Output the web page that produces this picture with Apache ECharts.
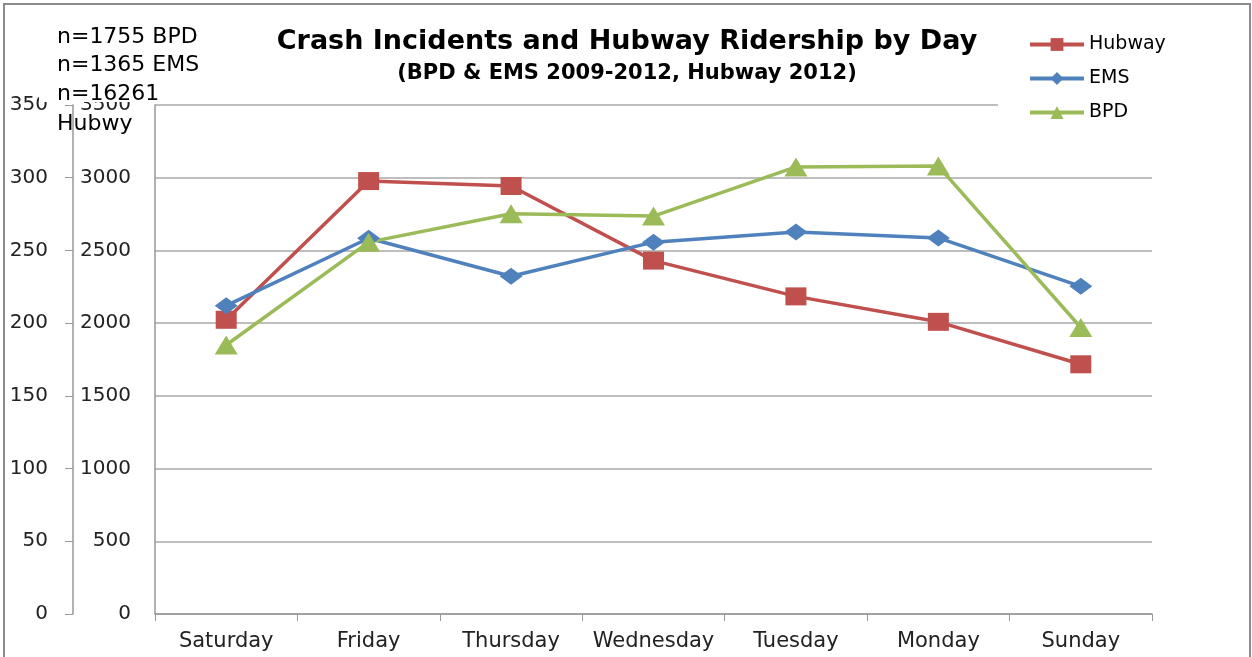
<!DOCTYPE html>
<html>
<head>
<meta charset="utf-8">
<script src="https://cdn.jsdelivr.net/npm/echarts@6/dist/echarts.min.js"></script>
<style>
html,body{margin:0;padding:0;background:#fff;}
#chart{width:1252px;height:657px;}
</style>
</head>
<body>
<div id="chart"></div>
<script>
var days = ['Saturday', 'Friday', 'Thursday', 'Wednesday', 'Tuesday', 'Monday', 'Sunday'];
var hubway = [2023, 2977, 2943, 2430, 2184, 2009, 1717];
var ems = [212, 258.4, 232.2, 255.7, 262.6, 258.6, 225.3];
var bpd = [185, 255.7, 275.2, 273.6, 307.4, 308, 197];
var noteLines = ['n=1755 BPD', 'n=1365 EMS', 'n=16261', 'Hubwy'];
var titleText = 'Crash Incidents and Hubway Ridership by Day';
var subtitleText = '(BPD & EMS 2009-2012, Hubway 2012)';

var FONT = 'DejaVu Sans';
var chart = echarts.init(document.getElementById('chart'), null, {renderer: 'canvas'});

var graphics = [
  {type: 'rect', z: 100, shape: {x: 4, y: 4, width: 1246, height: 660}, style: {fill: 'none', stroke: '#8c8c8c', lineWidth: 2}},
  {type: 'rect', z: 90, shape: {x: 39, y: 15, width: 122, height: 87}, style: {fill: '#fff'}},
  {type: 'text', z: 101, x: 627, y: 42, style: {text: titleText, font: 'bold 27px "DejaVu Sans"', fill: '#000', align: 'center', verticalAlign: 'middle'}},
  {type: 'text', z: 101, x: 627, y: 74, style: {text: subtitleText, font: 'bold 21px "DejaVu Sans"', fill: '#000', align: 'center', verticalAlign: 'middle'}}
];
var noteY = [37, 65, 94, 124];
noteLines.forEach(function (t, i) {
  graphics.push({type: 'text', z: 101, x: 57, y: noteY[i], style: {text: t, font: '22px "DejaVu Sans"', fill: '#000', align: 'left', verticalAlign: 'middle'}});
});

var option = {
  backgroundColor: '#fff',
  animation: false,
  textStyle: {fontFamily: FONT},
  grid: {left: 155, right: 100, top: 105, bottom: 43, containLabel: false},
  legend: {
    orient: 'vertical',
    left: 998,
    top: 33,
    padding: [2, 10, 2, 30],
    backgroundColor: '#fff',
    itemWidth: 54,
    itemHeight: 16,
    itemGap: 15,
    lineStyle: {width: 4},
    textStyle: {fontFamily: FONT, fontSize: 19, color: '#000'},
    data: ['Hubway', 'EMS', 'BPD']
  },
  xAxis: {
    type: 'category',
    data: days,
    boundaryGap: true,
    axisLine: {show: true, lineStyle: {color: '#999', width: 1.5}},
    axisTick: {show: true, length: 7, alignWithLabel: false, lineStyle: {color: '#999'}},
    axisLabel: {fontFamily: FONT, fontSize: 21, color: '#222', margin: 17, interval: 0},
    splitLine: {show: false}
  },
  yAxis: [
    {
      type: 'value', position: 'left', offset: 82,
      min: 0, max: 350, interval: 50,
      axisLine: {show: true, lineStyle: {color: '#999', width: 1.5}},
      axisTick: {show: true, length: 8, inside: false, lineStyle: {color: '#999'}},
      axisLabel: {fontFamily: FONT, fontSize: 20, color: '#222', margin: 25, formatter: function (v) { return String(v); }},
      splitLine: {show: false}
    },
    {
      type: 'value', position: 'left', offset: 0,
      min: 0, max: 3500, interval: 500,
      axisLine: {show: true, lineStyle: {color: '#999', width: 1.5}},
      axisTick: {show: false},
      axisLabel: {fontFamily: FONT, fontSize: 20, color: '#222', margin: 24, formatter: function (v) { return String(v); }},
      splitLine: {show: true, lineStyle: {color: '#a8a8a8', width: 1.5}}
    }
  ],
  series: [
    {
      name: 'Hubway', type: 'line', yAxisIndex: 1, data: hubway,
      symbol: 'rect', symbolSize: [21, 18],
      lineStyle: {color: '#C0504D', width: 3.5},
      itemStyle: {color: '#C0504D'}
    },
    {
      name: 'EMS', type: 'line', yAxisIndex: 0, data: ems,
      symbol: 'diamond', symbolSize: [23, 17],
      lineStyle: {color: '#4F81BD', width: 3.5},
      itemStyle: {color: '#4F81BD'}
    },
    {
      name: 'BPD', type: 'line', yAxisIndex: 0, data: bpd,
      symbol: 'triangle', symbolSize: [23, 19],
      lineStyle: {color: '#9BBB59', width: 3.5},
      itemStyle: {color: '#9BBB59'}
    }
  ],
  graphic: graphics
};
chart.setOption(option);
</script>
</body>
</html>
